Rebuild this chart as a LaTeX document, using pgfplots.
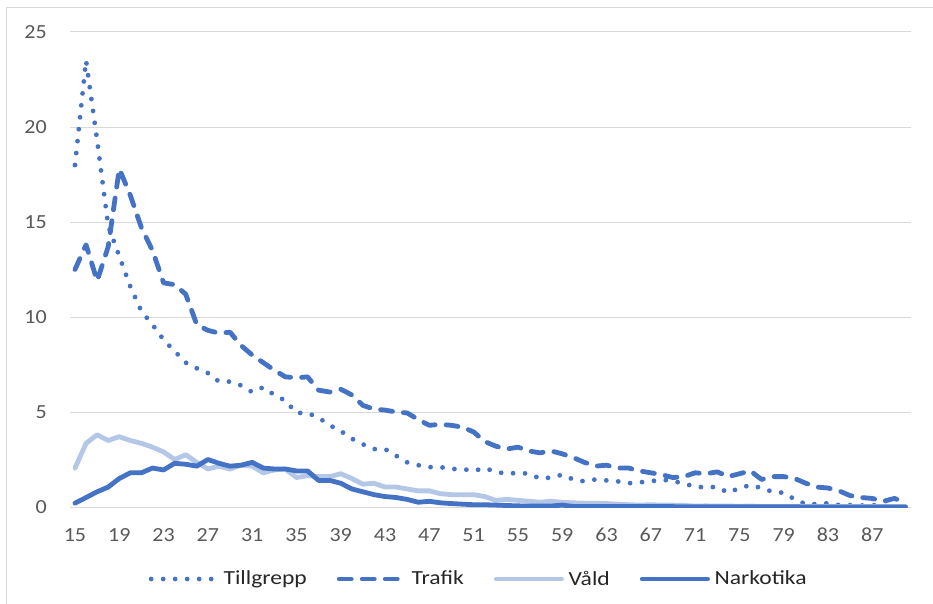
\documentclass[border=0pt]{standalone}
\usepackage{fontspec}
\setmainfont{Carlito}[FakeStretch=1.1]
\newfontfamily\legfont{Carlito}[FakeStretch=1.18]
\usepackage{pgfplots}
\pgfplotsset{compat=1.18}
\usepackage{pgfplotstable}
\definecolor{dblue}{HTML}{4472C4}
\definecolor{lblue}{HTML}{B4C7E7}
\definecolor{gridc}{HTML}{D9D9D9}
\definecolor{tickc}{HTML}{595959}
\definecolor{legc}{HTML}{262626}

\pgfplotstableread{
age till trafik vald nark
15 18.0 12.5 2.05 0.2
16 23.5 13.8 3.35 0.5
17 19.3 11.9 3.8 0.8
18 14.8 13.7 3.5 1.05
19 13.2 17.8 3.7 1.5
20 11.6 16.4 3.5 1.8
21 10.3 14.7 3.35 1.8
22 9.6 13.5 3.15 2.05
23 8.8 11.8 2.9 1.95
24 8.2 11.7 2.5 2.3
25 7.6 11.2 2.75 2.25
26 7.3 9.6 2.35 2.15
27 7.05 9.3 2.0 2.5
28 6.6 9.15 2.15 2.3
29 6.6 9.2 2.0 2.15
30 6.4 8.5 2.2 2.2
31 6.05 8.0 2.15 2.35
32 6.3 7.6 1.8 2.05
33 5.9 7.2 1.95 2.0
34 5.6 6.85 2.0 2.0
35 4.95 6.8 1.55 1.9
36 4.95 6.85 1.65 1.9
37 4.7 6.15 1.6 1.4
38 4.3 6.05 1.6 1.4
39 4.0 6.2 1.75 1.25
40 3.6 5.9 1.5 0.95
41 3.3 5.35 1.2 0.8
42 3.05 5.15 1.25 0.65
43 3.05 5.1 1.05 0.55
44 2.7 5.0 1.05 0.5
45 2.35 4.95 0.95 0.4
46 2.2 4.6 0.85 0.25
47 2.1 4.3 0.85 0.3
48 2.1 4.35 0.7 0.22
49 2.0 4.3 0.65 0.18
50 2.0 4.2 0.65 0.15
51 1.9 3.95 0.65 0.12
52 2.05 3.45 0.55 0.12
53 1.85 3.2 0.35 0.1
54 1.75 3.05 0.4 0.08
55 1.8 3.15 0.35 0.06
56 1.75 2.95 0.3 0.05
57 1.5 2.85 0.25 0.05
58 1.55 2.95 0.3 0.05
59 1.7 2.8 0.25 0.1
60 1.45 2.6 0.22 0.03
61 1.35 2.35 0.2 0.02
62 1.45 2.15 0.2 0.02
63 1.4 2.2 0.18 0.02
64 1.35 2.05 0.15 0.02
65 1.25 2.05 0.12 0.02
66 1.3 1.9 0.1 0.02
67 1.35 1.8 0.12 0.02
68 1.45 1.7 0.1 0.02
69 1.35 1.55 0.1 0.02
70 1.25 1.6 0.08 0.01
71 1.05 1.8 0.05 0.01
72 1.05 1.75 0.06 0.01
73 1.05 1.85 0.05 0.01
74 0.75 1.6 0.05 0.01
75 1.0 1.75 0.04 0.01
76 1.15 1.9 0.05 0.01
77 1.0 1.45 0.03 0.01
78 0.8 1.6 0.03 0.01
79 0.75 1.6 0.02 0.01
80 0.4 1.5 0.03 0.01
81 0.15 1.25 0.02 0.0
82 0.15 1.05 0.02 0.0
83 0.2 1.0 0.02 0.0
84 0.1 0.85 0.02 0.0
85 0.1 0.6 0.02 0.0
86 0.08 0.5 0.02 0.0
87 0.1 0.45 0.02 0.0
88 0.05 0.3 0.02 0.0
89 0.05 0.45 0.02 0.0
90 0.03 0.25 0.02 0.0
}\datatable

\begin{document}
\begin{tikzpicture}
\begin{axis}[
  name=ax,
  scale only axis,
  width=630.75pt, height=356.25pt,
  xmin=14.55, xmax=90.5, ymin=0, ymax=25,
  xtick={15,19,...,87}, ytick={0,5,...,25},
  ymajorgrids, grid style={draw=gridc, line width=0.75pt},
  axis line style={draw=none},
  major tick length=0pt, tick style={draw=none},
  /pgf/number format/assume math mode=true,
  ticklabel style={font=\fontsize{15}{18}\selectfont, text=tickc},
  xticklabel style={anchor=north, inner sep=0pt, yshift=-15.75pt},
  yticklabel style={anchor=east, inner sep=0pt, xshift=-17.25pt},
  legend columns=-1,
  legend style={at={(0.4875,-0.1516)}, anchor=center, draw=none, fill=none,
    font=\legfont\fontsize{15}{18}\selectfont, text=legc,
    /tikz/every even column/.append style={column sep=19pt},
    nodes={inner sep=3.5pt}},
  legend image code/.code={\draw[#1] (0pt,0pt) -- (49pt,0pt);},
  every axis plot/.append style={line width=3.6pt, line cap=round, line join=round},
]
\addplot[dblue, dash pattern=on 0pt off 9pt] table[x=age, y=till] {\datatable};
\addlegendentry{Tillgrepp}
\addplot[dblue, dash pattern=on 9pt off 8.25pt] table[x=age, y=trafik] {\datatable};
\addlegendentry{Trafik}
\addplot[lblue] table[x=age, y=vald] {\datatable};
\addlegendentry{Våld}
\addplot[dblue] table[x=age, y=nark] {\datatable};
\addlegendentry{Narkotika}
\end{axis}
\pgfresetboundingbox
\path[use as bounding box] ([xshift=-52.5pt,yshift=-72pt]ax.south west) rectangle ([xshift=16.5pt,yshift=24pt]ax.north east);
\draw[gridc, line width=0.75pt] ([xshift=-47.25pt,yshift=-80pt]ax.south west) -- ([xshift=-47.25pt,yshift=18pt]ax.north west) -- ([xshift=20pt,yshift=18pt]ax.north east);
\end{tikzpicture}
\end{document}
